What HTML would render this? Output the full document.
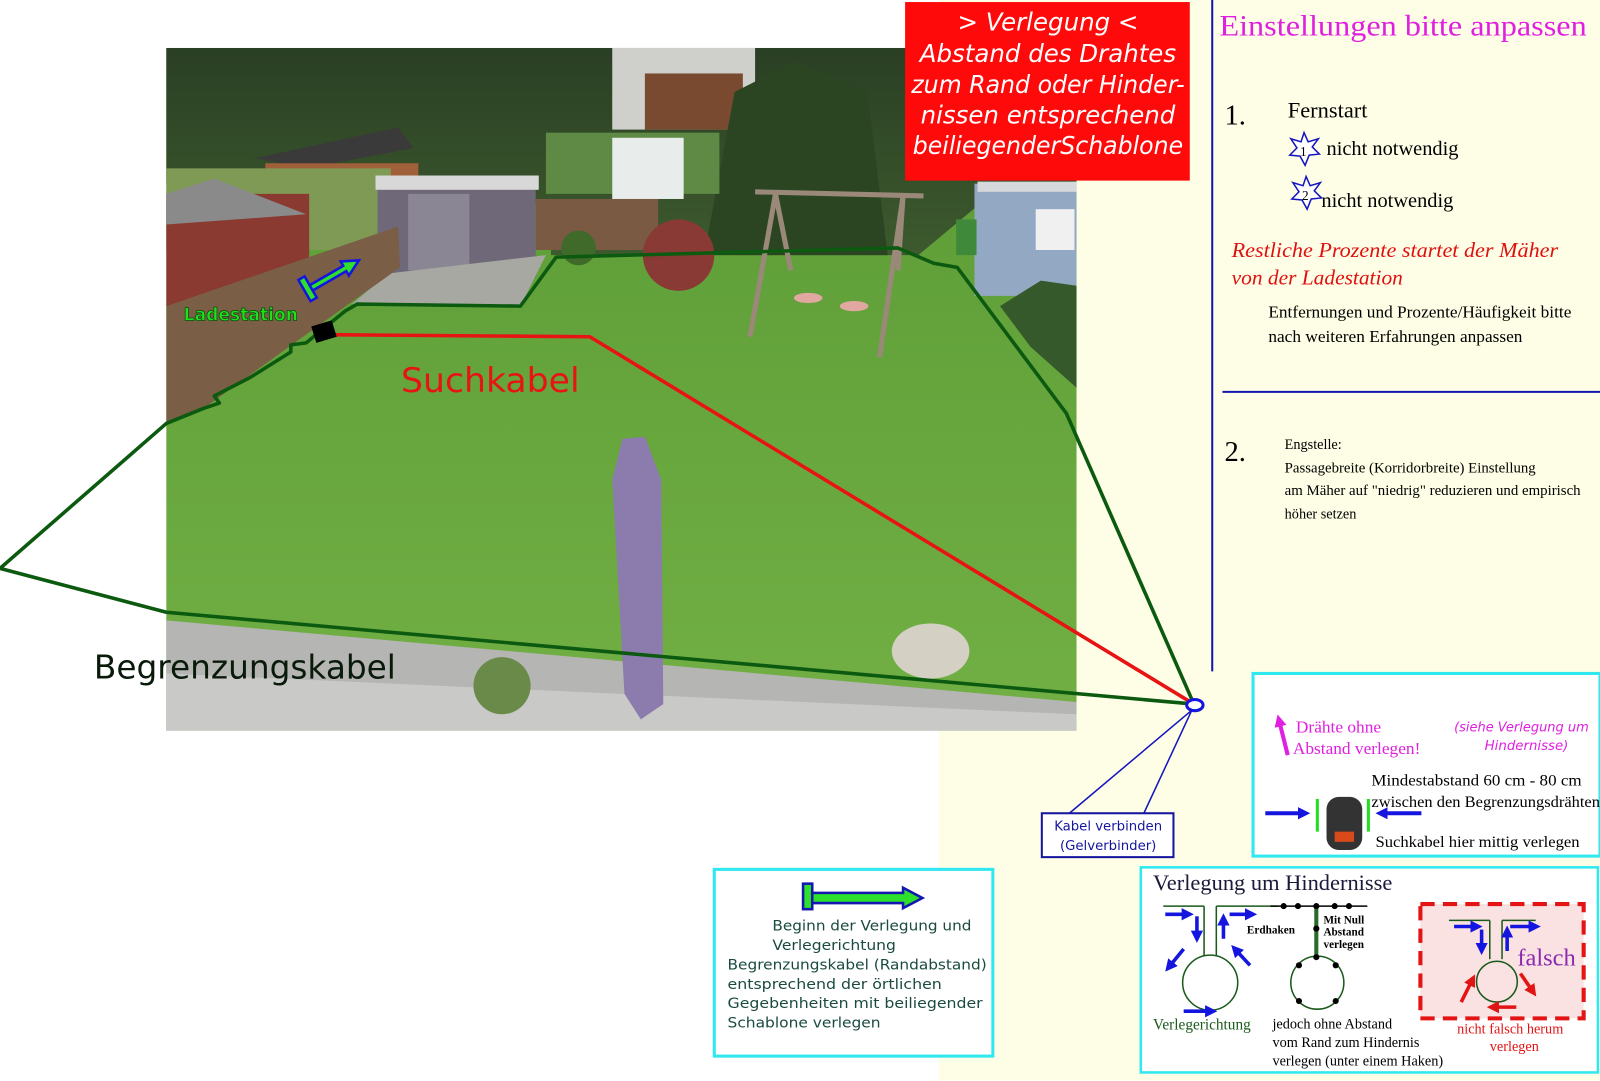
<!DOCTYPE html>
<html><head><meta charset="utf-8"><style>
html,body{margin:0;padding:0;width:1600px;height:1081px;overflow:hidden;background:#fff}
#wrap{position:absolute;left:0;top:0;width:1568px;height:1059px;transform:scale(1.0204);transform-origin:0 0}
svg{position:absolute;left:0;top:0}
.serif{font-family:"Liberation Serif",serif}
.sans{font-family:"DejaVu Sans","Liberation Sans",sans-serif}
</style></head><body><div id="wrap">
<svg width="1568" height="1059" viewBox="0 0 1568 1059" xmlns="http://www.w3.org/2000/svg">
<defs>
<linearGradient id="grass" x1="0" y1="0" x2="0" y2="1"><stop offset="0" stop-color="#5a9a34"/><stop offset="1" stop-color="#72b045"/></linearGradient>
<linearGradient id="trees" x1="0" y1="0" x2="0" y2="1"><stop offset="0" stop-color="#2a3f24"/><stop offset="1" stop-color="#3d5a2e"/></linearGradient>
<marker id="bh" markerUnits="userSpaceOnUse" markerWidth="12" markerHeight="12" refX="4" refY="6" orient="auto"><path d="M0,0 L12,6 L0,12 Z" fill="#1515e0"/></marker>
<marker id="rh" markerUnits="userSpaceOnUse" markerWidth="12" markerHeight="12" refX="4" refY="6" orient="auto"><path d="M0,0 L12,6 L0,12 Z" fill="#e01515"/></marker>
<marker id="mh" markerUnits="userSpaceOnUse" markerWidth="12" markerHeight="12" refX="4" refY="6" orient="auto"><path d="M0,0 L12,6 L0,12 Z" fill="#e020e0"/></marker>
</defs>
<rect x="920" y="0" width="648" height="1059" fill="#fefee6"/>
<rect x="163" y="47" width="892" height="669" fill="url(#grass)"/>
<polygon points="163,47 1055,47 1055,190 960,200 900,250 540,250 540,200 163,180" fill="url(#trees)"/>
<rect x="600" y="47" width="140" height="80" fill="#cfcfcc"/><rect x="632" y="72" width="96" height="55" fill="#7a4a30"/>
<polygon points="690,250 720,90 780,60 850,90 870,250" fill="#2b4522"/>
<rect x="535" y="130" width="170" height="60" fill="#5f8a45"/>
<rect x="600" y="135" width="70" height="60" fill="#e8ecea"/>
<polygon points="250,155 390,125 405,145 300,165" fill="#3a3a3a"/>
<rect x="260" y="160" width="150" height="40" fill="#a0603a"/>
<rect x="163" y="165" width="220" height="80" fill="#7f9a55"/>
<rect x="163" y="190" width="140" height="110" fill="#8a3a30"/>
<polygon points="163,190 210,175 300,210 163,220" fill="#8a8a8a"/>
<rect x="370" y="180" width="155" height="92" fill="#6e6878"/>
<rect x="368" y="172" width="160" height="14" fill="#d8d8d8"/>
<rect x="400" y="190" width="60" height="75" fill="#8a8694"/>
<polygon points="345,298 380,268 535,250 510,300" fill="#a8a8a2"/>
<rect x="525" y="195" width="120" height="50" fill="#7a5a42"/>
<polygon points="163,300 390,222 392,262 290,335 200,400 163,415" fill="#7b5e46"/>
<circle cx="665" cy="250" r="35" fill="#8a3a35"/>
<circle cx="567" cy="243" r="17" fill="#3f6a2a"/>
<rect x="955" y="180" width="100" height="110" fill="#93a8c2"/>
<rect x="958" y="178" width="97" height="10" fill="#d5d8dc"/>
<rect x="1015" y="205" width="38" height="40" fill="#f0f0f0"/>
<rect x="937" y="215" width="20" height="35" fill="#3f8a3a"/>
<polygon points="980,300 1020,275 1055,280 1055,380 1010,340" fill="#35592a"/>
<g stroke="#9a8878" stroke-width="5" fill="none"><line x1="740" y1="188" x2="905" y2="192"/><line x1="760" y1="190" x2="735" y2="330"/><line x1="885" y1="192" x2="862" y2="350"/><line x1="760" y1="190" x2="775" y2="265"/><line x1="885" y1="192" x2="880" y2="265"/></g>
<ellipse cx="792" cy="292" rx="14" ry="5" fill="#e0a8a0"/><ellipse cx="837" cy="300" rx="14" ry="5" fill="#e0a8a0"/>
<polygon points="163,608 1055,688 1055,716 163,716" fill="#b5b5b3"/>
<polygon points="163,660 1055,700 1055,716 163,716" fill="#c9c9c7"/>
<ellipse cx="912" cy="638" rx="38" ry="27" fill="#d4d0c4"/>
<polygon points="610,430 632,428 648,470 650,690 628,705 612,680 600,470" fill="#8c7bad"/>
<circle cx="492" cy="672" r="28" fill="#6a8a4a"/>
<polyline points="1170,690 163,600 0,557 163,415 200,400 215,395 210,388 245,370 285,345 285,338 300,336 338,305 350,298 510,300 545,252 880,243 915,258 938,262 1045,405 1170,690" fill="none" stroke="#0c5a10" stroke-width="3.5" stroke-linejoin="round"/>
<polyline points="320,328 578,330 1170,690" fill="none" stroke="#e81414" stroke-width="3.5"/>
<polygon points="305,320 325,314 330,330 310,336" fill="#000"/>
<g transform="translate(302,285) rotate(-30)">
<rect x="-3" y="-14" width="7" height="24" fill="#2ce02c" stroke="#1515e0" stroke-width="2.5"/>
<polygon points="4,-4 42,-4 42,-9 58,-1 42,7 42,2 4,2" fill="#2ce02c" stroke="#1515e0" stroke-width="2.5"/>
</g>
<text x="180" y="314" class="sans" font-size="17" font-weight="bold" fill="#1ee01e" stroke="#0a4a0a" stroke-width="0.7" textLength="112" lengthAdjust="spacingAndGlyphs">Ladestation</text>
<text x="393" y="384" class="sans" font-size="33" fill="#e81414" textLength="175" lengthAdjust="spacingAndGlyphs">Suchkabel</text>
<text x="92" y="665" class="sans" font-size="32" fill="#0a1a0a" textLength="296" lengthAdjust="spacingAndGlyphs">Begrenzungskabel</text>
<rect x="887" y="2" width="279" height="175" fill="#ff0a0a"/>
<g class="sans" font-size="24" font-style="italic" fill="#fff" text-anchor="middle">
<text x="1027" y="30">&gt; Verlegung &lt;</text>
<text x="1027" y="61">Abstand des Drahtes</text>
<text x="1027" y="91" textLength="268" lengthAdjust="spacingAndGlyphs">zum Rand oder Hinder-</text>
<text x="1027" y="121">nissen entsprechend</text>
<text x="1027" y="151" textLength="265" lengthAdjust="spacingAndGlyphs">beiliegenderSchablone</text>
</g>
<line x1="1188" y1="0" x2="1188" y2="658" stroke="#1515b0" stroke-width="2"/>
<line x1="1198" y1="384" x2="1568" y2="384" stroke="#1515b0" stroke-width="2"/>
<text x="1195" y="35" class="serif" font-size="29" fill="#e020e0" textLength="360" lengthAdjust="spacingAndGlyphs">Einstellungen bitte anpassen</text>
<text x="1200" y="122" class="serif" font-size="28" fill="#000">1.</text>
<text x="1262" y="115" class="serif" font-size="22" fill="#000">Fernstart</text>
<polygon points="1278,130 1282,139 1292,136 1286,144 1293,151 1283,152 1279,162 1274,153 1264,152 1271,145 1265,136 1275,139" fill="#fff" stroke="#1515c0" stroke-width="1.5"/>
<text x="1274" y="153" class="serif" font-size="13">1</text>
<text x="1300" y="152" class="serif" font-size="20" fill="#000">nicht notwendig</text>
<polygon points="1280,173 1284,182 1294,179 1288,187 1295,194 1285,195 1281,205 1276,196 1266,195 1273,188 1267,179 1277,182" fill="#fff" stroke="#1515c0" stroke-width="1.5"/>
<text x="1276" y="196" class="serif" font-size="13">2</text>
<text x="1295" y="203" class="serif" font-size="20" fill="#000">nicht notwendig</text>
<text x="1207" y="252" class="serif" font-size="21" font-style="italic" fill="#e01010" textLength="320" lengthAdjust="spacingAndGlyphs">Restliche Prozente  startet der Mäher</text>
<text x="1207" y="279" class="serif" font-size="21" font-style="italic" fill="#e01010">von der Ladestation</text>
<text x="1243" y="311" class="serif" font-size="17" fill="#000" textLength="297" lengthAdjust="spacingAndGlyphs">Entfernungen und Prozente/Häufigkeit bitte</text>
<text x="1243" y="335" class="serif" font-size="17" fill="#000" textLength="249" lengthAdjust="spacingAndGlyphs">nach weiteren Erfahrungen anpassen</text>
<text x="1200" y="452" class="serif" font-size="28" fill="#000">2.</text>
<g class="serif" font-size="14" fill="#000">
<text x="1259" y="440">Engstelle:</text>
<text x="1259" y="463" textLength="246" lengthAdjust="spacingAndGlyphs">Passagebreite (Korridorbreite) Einstellung</text>
<text x="1259" y="485" textLength="290" lengthAdjust="spacingAndGlyphs">am Mäher auf "niedrig" reduzieren und empirisch</text>
<text x="1259" y="508">höher setzen</text>
</g>
<ellipse cx="1171" cy="691" rx="8" ry="5.5" fill="#fff" stroke="#1515e0" stroke-width="3"/>
<polyline points="1048,797 1168,696 1121,797" fill="none" stroke="#1515c0" stroke-width="1.5"/>
<rect x="1021" y="797" width="129" height="43" fill="#fff" stroke="#1515a0" stroke-width="2"/>
<text x="1086" y="814" class="sans" font-size="13" fill="#1515a0" text-anchor="middle">Kabel verbinden</text>
<text x="1086" y="833" class="sans" font-size="13" fill="#1515a0" text-anchor="middle">(Gelverbinder)</text>
<rect x="1228" y="660" width="340" height="179" fill="#fff" stroke="#30e8f0" stroke-width="3"/>
<line x1="1262" y1="740" x2="1254" y2="708" stroke="#e020e0" stroke-width="4" marker-end="url(#mh)"/>
<text x="1270" y="718" class="serif" font-size="17" fill="#e020e0">Drähte ohne</text>
<text x="1267" y="739" class="serif" font-size="17" fill="#e020e0">Abstand verlegen!</text>
<text x="1425" y="717" class="sans" font-size="13" font-style="italic" fill="#e020e0" textLength="132" lengthAdjust="spacingAndGlyphs">(siehe Verlegung um</text>
<text x="1455" y="735" class="sans" font-size="13" font-style="italic" fill="#e020e0" textLength="82" lengthAdjust="spacingAndGlyphs">Hindernisse)</text>
<text x="1344" y="770" class="serif" font-size="15" fill="#000" textLength="206" lengthAdjust="spacingAndGlyphs">Mindestabstand 60 cm - 80 cm</text>
<text x="1344" y="791" class="serif" font-size="15" fill="#000" textLength="224" lengthAdjust="spacingAndGlyphs">zwischen den Begrenzungsdrähten</text>
<text x="1348" y="830" class="serif" font-size="15" fill="#000" textLength="200" lengthAdjust="spacingAndGlyphs">Suchkabel hier mittig verlegen</text>
<line x1="1240" y1="797" x2="1276" y2="797" stroke="#1515e0" stroke-width="4" marker-end="url(#bh)"/>
<line x1="1393" y1="797" x2="1356" y2="797" stroke="#1515e0" stroke-width="4" marker-end="url(#bh)"/>
<line x1="1291" y1="783" x2="1291" y2="815" stroke="#22dd22" stroke-width="3"/>
<line x1="1341" y1="783" x2="1341" y2="815" stroke="#22dd22" stroke-width="3"/>
<rect x="1300" y="781" width="35" height="52" rx="12" fill="#333"/>
<rect x="1308" y="815" width="19" height="10" fill="#d84a1a"/>
<rect x="1118" y="850" width="448" height="201" fill="#fff" stroke="#30e8f0" stroke-width="2.5"/>
<text x="1130" y="872" class="serif" font-size="22" fill="#1a1a3a">Verlegung um Hindernisse</text>
<g fill="none" stroke="#1a5a1a" stroke-width="1.5">
<line x1="1140" y1="888" x2="1180" y2="888"/><line x1="1192" y1="888" x2="1252" y2="888"/>
<line x1="1180" y1="888" x2="1180" y2="937"/><line x1="1192" y1="888" x2="1192" y2="937"/>
<circle cx="1186" cy="963" r="27"/>
<line x1="1245" y1="888" x2="1340" y2="888" stroke="#000"/>
<line x1="1290" y1="888" x2="1290" y2="938" stroke="#2a6a2a" stroke-width="4"/>
<circle cx="1291" cy="963" r="26"/>
</g>
<g fill="#000"><circle cx="1258" cy="888" r="3"/><circle cx="1272" cy="888" r="3"/><circle cx="1290" cy="888" r="3"/><circle cx="1308" cy="888" r="3"/><circle cx="1322" cy="888" r="3"/><circle cx="1290" cy="910" r="3"/><circle cx="1290" cy="938" r="3"/><circle cx="1273" cy="946" r="3"/><circle cx="1309" cy="946" r="3"/><circle cx="1273" cy="981" r="3"/><circle cx="1309" cy="981" r="3"/></g>
<g stroke="#1515e0" stroke-width="3.5">
<line x1="1142" y1="896" x2="1162" y2="896" marker-end="url(#bh)"/><line x1="1205" y1="896" x2="1224" y2="896" marker-end="url(#bh)"/>
<line x1="1173" y1="898" x2="1173" y2="916" marker-end="url(#bh)"/><line x1="1199" y1="920" x2="1199" y2="903" marker-end="url(#bh)"/>
<line x1="1160" y1="930" x2="1147" y2="946" marker-end="url(#bh)"/><line x1="1225" y1="946" x2="1212" y2="932" marker-end="url(#bh)"/>
<line x1="1160" y1="991" x2="1185" y2="991" marker-end="url(#bh)"/>
</g>
<text x="1130" y="1009" class="serif" font-size="15" fill="#1a5a1a">Verlegerichtung</text>
<g class="serif" font-size="11" font-weight="bold" fill="#000"><text x="1222" y="915">Erdhaken</text><text x="1297" y="905">Mit Null</text><text x="1297" y="917">Abstand</text><text x="1297" y="929">verlegen</text></g>
<g class="serif" font-size="14" fill="#000"><text x="1247" y="1008">jedoch ohne Abstand</text><text x="1247" y="1026">vom Rand zum Hindernis</text><text x="1247" y="1044">verlegen (unter einem Haken)</text></g>
<rect x="1392" y="886" width="160" height="112" fill="#fbe2e2" stroke="#e41414" stroke-width="4" stroke-dasharray="14,8"/>
<g fill="none" stroke="#1a5a1a" stroke-width="1.5"><line x1="1420" y1="902" x2="1460" y2="902"/><line x1="1472" y1="902" x2="1505" y2="902"/><line x1="1460" y1="902" x2="1460" y2="940"/><line x1="1472" y1="902" x2="1472" y2="940"/><circle cx="1467" cy="962" r="20"/></g>
<g stroke="#1515e0" stroke-width="3.5"><line x1="1425" y1="908" x2="1445" y2="908" marker-end="url(#bh)"/><line x1="1480" y1="908" x2="1502" y2="908" marker-end="url(#bh)"/><line x1="1452" y1="911" x2="1452" y2="928" marker-end="url(#bh)"/><line x1="1477" y1="932" x2="1477" y2="915" marker-end="url(#bh)"/></g>
<g stroke="#e41414" stroke-width="3.5"><line x1="1432" y1="982" x2="1442" y2="962" marker-end="url(#rh)"/><line x1="1490" y1="954" x2="1501" y2="970" marker-end="url(#rh)"/><line x1="1486" y1="987" x2="1465" y2="987" marker-end="url(#rh)"/></g>
<text x="1487" y="946" class="serif" font-size="24" fill="#8a2ab0">falsch</text>
<text x="1428" y="1013" class="serif" font-size="14" fill="#e41414">nicht falsch herum</text>
<text x="1460" y="1030" class="serif" font-size="14" fill="#e41414">verlegen</text>
<rect x="700" y="852" width="273" height="183" fill="#fff" stroke="#30e8f0" stroke-width="3"/>
<rect x="787" y="866" width="9" height="25" fill="#2ce02c" stroke="#1515b0" stroke-width="2.5"/>
<polygon points="796,875 885,875 885,870 904,880 885,890 885,885 796,885" fill="#2ce02c" stroke="#1515b0" stroke-width="2.5"/>
<g class="sans" font-size="14" fill="#1a4a40">
<text x="757" y="912" textLength="195" lengthAdjust="spacingAndGlyphs">Beginn der Verlegung und</text>
<text x="757" y="931" textLength="121" lengthAdjust="spacingAndGlyphs">Verlegerichtung</text>
<text x="713" y="950" textLength="254" lengthAdjust="spacingAndGlyphs">Begrenzungskabel (Randabstand)</text>
<text x="713" y="969" textLength="210" lengthAdjust="spacingAndGlyphs">entsprechend der örtlichen</text>
<text x="713" y="988" textLength="250" lengthAdjust="spacingAndGlyphs">Gegebenheiten mit beiliegender</text>
<text x="713" y="1007" textLength="150" lengthAdjust="spacingAndGlyphs">Schablone verlegen</text>
</g>
</svg>
</div></body></html>
